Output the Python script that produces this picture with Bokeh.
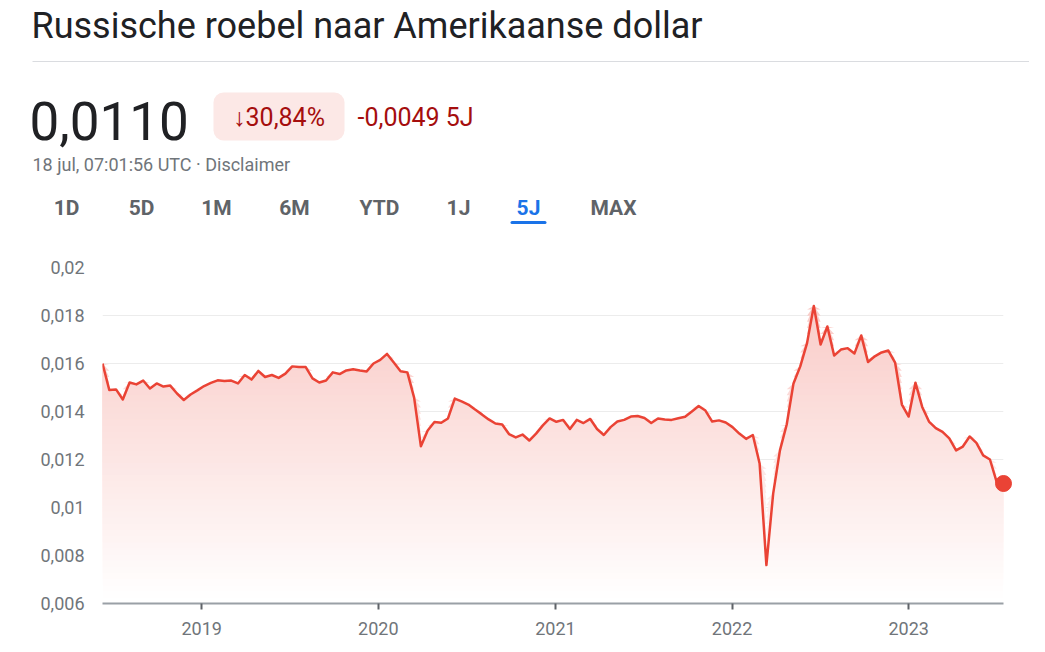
import numpy as np
import pandas as pd
from bokeh.plotting import figure
from bokeh.models import (Range1d, FixedTicker, CustomJSTickFormatter,
                          DatetimeTickFormatter, BoxAnnotation)
from bokeh.layouts import column
from bokeh.embed import file_html
from bokeh.resources import INLINE
from bokeh.core.properties import value

# ---------------- data ----------------
TITLE = "Russische roebel naar Amerikaanse dollar"
PRICE = "0,0110"
CHANGE_PCT = "\u219330,84%"
CHANGE_ABS = "-0,0049 5J"
TIMESTAMP = "18 jul, 07:01:56 UTC \u00b7 Disclaimer"
TABS = ["1D", "5D", "1M", "6M", "YTD", "1J", "5J", "MAX"]
ACTIVE_TAB = "5J"

START_DATE = "2018-06-10"
STEP = "14D"
rub_usd = [
    0.01600, 0.01490, 0.01492, 0.01450, 0.01521, 0.01513, 0.01529, 0.01496, 0.01517, 0.01504,
    0.01508, 0.01475, 0.01448, 0.01471, 0.01488, 0.01506, 0.01519, 0.01530, 0.01527, 0.01529,
    0.01517, 0.01552, 0.01533, 0.01569, 0.01544, 0.01552, 0.01540, 0.01558, 0.01588, 0.01585,
    0.01585, 0.01538, 0.01521, 0.01529, 0.01563, 0.01556, 0.01571, 0.01576, 0.01571, 0.01567,
    0.01600, 0.01615, 0.01640, 0.01604, 0.01568, 0.01563, 0.01458, 0.01255, 0.01321, 0.01356,
    0.01353, 0.01371, 0.01454, 0.01442, 0.01429, 0.01408, 0.01388, 0.01367, 0.01350, 0.01346,
    0.01306, 0.01292, 0.01304, 0.01279, 0.01308, 0.01342, 0.01371, 0.01357, 0.01365, 0.01327,
    0.01365, 0.01352, 0.01369, 0.01327, 0.01302, 0.01335, 0.01358, 0.01365, 0.01379, 0.01381,
    0.01373, 0.01352, 0.01371, 0.01367, 0.01365, 0.01372, 0.01378, 0.01400, 0.01423, 0.01404,
    0.01358, 0.01363, 0.01354, 0.01335, 0.01308, 0.01286, 0.01302, 0.01183, 0.00760, 0.01058,
    0.01238, 0.01346, 0.01517, 0.01588, 0.01685, 0.01840, 0.01679, 0.01754, 0.01633, 0.01658,
    0.01664, 0.01642, 0.01717, 0.01606, 0.01630, 0.01646, 0.01654, 0.01604, 0.01429, 0.01379,
    0.01520, 0.01419, 0.01358, 0.01331, 0.01315, 0.01288, 0.01238, 0.01254, 0.01296, 0.01269,
    0.01217, 0.01200, 0.01106, 0.01100,
]
Y_TICKS = [0.006, 0.008, 0.01, 0.012, 0.014, 0.016, 0.018, 0.02]
YEAR_TICKS = ["2019-01-01", "2020-01-01", "2021-01-01", "2022-01-01", "2023-01-01"]

dates = pd.date_range(START_DATE, periods=len(rub_usd), freq=STEP)
vals = np.array(rub_usd)

FONT = value("Roboto")
RED = "#ea4335"
DARK = "#202124"
GREY = "#70757a"

W = 1029
BL, BR = 102, 26          # left / right borders shared by both figures
H1 = 232
H2 = 411

# ---------------- header ----------------
h = figure(width=W, height=H1, x_range=Range1d(BL, W - BR), y_range=Range1d(H1, 0),
           output_backend="svg", toolbar_location=None,
           min_border_left=BL, min_border_right=BR, min_border_top=0, min_border_bottom=0,
           outline_line_color=None)
h.axis.visible = False
h.grid.visible = False

h.text(x=[31], y=[25], text=[TITLE], text_font=FONT, text_font_size="36px",
       text_color=DARK, text_baseline="middle", level="overlay")
h.segment(x0=[32], y0=[61], x1=[W], y1=[61], line_color="#dadce0", line_width=1,
          level="overlay")
h.text(x=[29], y=[120], text=[PRICE], text_font=FONT, text_font_size="53px",
       text_color=DARK, text_baseline="middle", level="overlay")
badge = BoxAnnotation(left=213, right=344, top=92, bottom=140, fill_color="#fce8e6",
                      fill_alpha=1, line_alpha=0, border_radius=10, level="underlay")
h.add_layout(badge)
h.text(x=[278.5], y=[117], text=[CHANGE_PCT], text_font=FONT, text_font_size="25px",
       text_color="#a50e0e", text_baseline="middle", text_align="center", level="overlay")
h.text(x=[357], y=[117], text=[CHANGE_ABS], text_font=FONT, text_font_size="25px",
       text_color="#a50e0e", text_baseline="middle", level="overlay")
h.text(x=[32], y=[164], text=[TIMESTAMP], text_font=FONT, text_font_size="18px",
       text_color=GREY, text_baseline="middle", level="overlay")
tab_x = [66, 141, 216, 294, 379, 458, 528, 613]
tab_colors = ["#1a73e8" if t == ACTIVE_TAB else "#5f6368" for t in TABS]
h.text(x=tab_x, y=[207] * len(TABS), text=TABS, text_font=FONT, text_font_size="21px",
       text_color=tab_colors, text_baseline="middle", text_align="center",
       text_font_style="bold", level="overlay")
ai = TABS.index(ACTIVE_TAB)
h.segment(x0=[tab_x[ai] - 16.5], y0=[222], x1=[tab_x[ai] + 16.5], y1=[222],
          line_color="#1a73e8", line_width=3, line_cap="round", level="overlay")

# ---------------- chart ----------------
p = figure(width=W, height=H2, x_axis_type="datetime",
           x_range=Range1d(dates[0], dates[-1]),
           y_range=Range1d(Y_TICKS[0], Y_TICKS[-1]),
           output_backend="svg", toolbar_location=None,
           min_border_left=BL, min_border_right=BR, min_border_top=267 - H1,
           min_border_bottom=H2 - (603 - H1), outline_line_color=None)

# vertical gradient under the line: opaque stacked bands, darker towards the top
levels = np.linspace(Y_TICKS[0], 0.0185, 50)
red_rgb = np.array([234, 67, 53])
for t in levels:
    alpha = 0.28 * (t - Y_TICKS[0]) / (0.0185 - Y_TICKS[0])
    c = np.round(255 * (1 - alpha) + red_rgb * alpha).astype(int)
    col = "#%02x%02x%02x" % tuple(c)
    p.varea(x=dates, y1=np.full(len(vals), t), y2=np.maximum(vals, t),
            fill_color=col, fill_alpha=1)

p.line(dates, vals, line_color=RED, line_width=2.5, line_join="round")
p.scatter(x=[dates[-1]], y=[vals[-1]], size=16, color=RED, level="overlay")

p.yaxis.ticker = FixedTicker(ticks=Y_TICKS)
p.yaxis.formatter = CustomJSTickFormatter(
    code="return Number(tick.toFixed(3)).toString().replace('.', ',');")
p.yaxis.axis_line_color = None
p.yaxis.major_tick_line_color = None
p.yaxis.minor_tick_line_color = None
p.yaxis.major_label_standoff = 12
p.yaxis.major_label_text_font = "Roboto"
p.yaxis.major_label_text_font_size = "18px"
p.yaxis.major_label_text_color = GREY

year_ms = [pd.Timestamp(d).value // 10**6 for d in YEAR_TICKS]
p.xaxis.ticker = FixedTicker(ticks=year_ms)
p.xaxis.formatter = DatetimeTickFormatter(years="%Y", months="%Y", days="%Y")
p.xaxis.axis_line_color = "#9aa0a6"
p.xaxis.axis_line_width = 2
p.xaxis.major_tick_line_color = "#5f6368"
p.xaxis.major_tick_line_width = 2
p.xaxis.major_tick_out = 6
p.xaxis.major_tick_in = 0
p.xaxis.minor_tick_line_color = None
p.xaxis.major_label_standoff = 12
p.xaxis.major_label_text_font = "Roboto"
p.xaxis.major_label_text_font_size = "18px"
p.xaxis.major_label_text_color = GREY

p.xgrid.grid_line_color = None
p.ygrid.ticker = FixedTicker(ticks=Y_TICKS)
p.ygrid.grid_line_color = "#ececec"
p.ygrid.grid_line_width = 1

layout = column(h, p, spacing=0)
open("out.html", "w").write(file_html(layout, INLINE))
